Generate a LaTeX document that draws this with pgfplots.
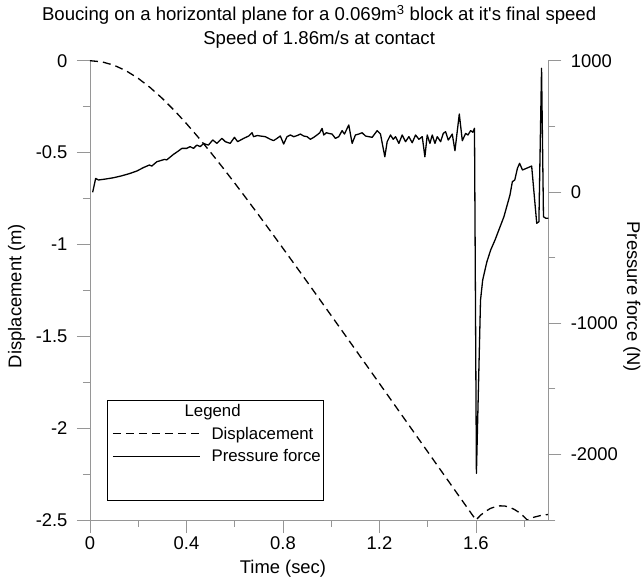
\documentclass[border=0pt]{standalone}
\usepackage{pgfplots}
\pgfplotsset{compat=1.18}
\usepackage{fontspec}
\setmainfont{Liberation Sans}
\definecolor{axgray}{RGB}{150,150,150}
\pgfplotstableread{
t d
0 0
0.05 -0.0063
0.1 -0.0249
0.15 -0.0552
0.2 -0.0962
0.25 -0.1468
0.3 -0.2055
0.35 -0.2711
0.4 -0.3426
0.45 -0.4186
0.5 -0.4985
0.55 -0.5812
0.6 -0.6663
0.65 -0.7533
0.7 -0.8415
0.75 -0.9309
0.8 -1.0212
0.85 -1.1120
0.9 -1.2034
0.95 -1.2952
1.0 -1.3872
1.05 -1.4795
1.1 -1.5720
1.15 -1.6646
1.2 -1.7572
1.25 -1.8499
1.3 -1.9428
1.35 -2.0357
1.4 -2.1285
1.45 -2.2215
1.5 -2.3144
1.55 -2.4073
1.6 -2.5
1.62 -2.473
1.64 -2.453
1.66 -2.437
1.68 -2.428
1.70 -2.423
1.72 -2.424
1.74 -2.431
1.76 -2.443
1.78 -2.460
1.80 -2.483
1.813 -2.5
1.84 -2.485
1.87 -2.475
1.9 -2.470
}\disptable
\pgfplotstableread{
t F
0.011 -3
0.0235 103
0.035 91
0.06 97
0.097 108
0.13 122
0.166 141
0.195 160
0.221 185
0.246 205
0.256 197
0.277 230
0.295 240
0.309 248
0.318 244
0.346 286
0.365 310
0.381 332
0.401 332
0.415 345
0.429 332
0.443 357
0.457 345
0.471 370
0.481 362
0.491 357
0.509 396
0.526 370
0.547 408
0.561 383
0.581 370
0.599 416
0.612 383
0.637 408
0.658 426
0.672 451
0.678 421
0.694 430
0.706 426
0.727 421
0.7475 401
0.7613 391
0.7752 408
0.7890 426
0.8029 365
0.8167 421
0.8306 434
0.8444 421
0.8582 429
0.8721 441
0.8859 426
0.8998 421
0.9136 401
0.9275 416
0.9413 434
0.9524 451
0.9621 484
0.9690 434
0.9801 451
0.9898 446
1.0036 441
1.0174 408
1.0313 421
1.0451 467
1.0548 441
1.0728 510
1.0867 370
1.1005 434
1.1143 441
1.1282 451
1.1420 426
1.1559 421
1.1697 416
1.1905 467
1.2043 441
1.2223 268
1.2320 383
1.2458 434
1.2569 401
1.2666 421
1.2805 370
1.2943 434
1.3082 383
1.3220 421
1.3358 375
1.3497 434
1.3635 401
1.3774 421
1.3884 268
1.3981 434
1.4092 370
1.4189 434
1.4300 370
1.4397 421
1.4535 383
1.4646 446
1.4742 459
1.4853 395
1.5019 441
1.5130 314
1.5310 594
1.5435 390
1.5573 446
1.5670 434
1.5781 467
1.587 455
1.594 485
1.602 -2145
1.619 -824
1.628 -671
1.645 -535
1.661 -443
1.679 -367
1.716 -189
1.741 -24
1.751 78
1.761 91
1.772 180
1.781 218
1.793 167
1.831 197
1.852 -239
1.861 -227
1.872 942
1.880 -189
1.890 -201
1.900 -201
}\forcetable
\newcommand\tickfont{\fontsize{18.4}{22}\selectfont}
\newcommand\titlefont{\fontsize{18.6}{23.5}\selectfont}
\newcommand\legfont{\fontsize{16.8}{20}\selectfont}
\begin{document}
\begin{tikzpicture}[font=\tickfont]
\path[use as bounding box] (0,0) rectangle (643pt,586pt);
\pgfplotsset{
  common/.style={
    at={(90pt,66pt)}, anchor=south west,
    scale only axis, width=458.3pt, height=459.3pt,
    xmin=0, xmax=1.9,
    axis line style={-, draw=axgray, line width=0.8pt},
    tick style={draw=axgray, line width=0.8pt},
    tick align=outside,
    major tick length=13pt, minor tick length=7pt,
    tick label style={font=\tickfont},
    label style={font=\tickfont},
    /pgf/number format/assume math mode=true,
    /pgf/number format/1000 sep={},
    scaled ticks=false,
  }
}
\begin{axis}[common,
  ymin=-2.5, ymax=0,
  axis x line*=bottom, axis y line*=left,
  xtick={0,0.4,0.8,1.2,1.6}, minor xtick={0.2,0.6,1.0,1.4,1.8},
  xticklabels={0,0.4,0.8,1.2,1.6},
  ytick={0,-0.5,-1,-1.5,-2,-2.5}, minor ytick={-0.25,-0.75,-1.25,-1.75,-2.25},
  yticklabels={0,-0.5,-1,-1.5,-2,-2.5},
  yticklabel style={xshift=-6pt},
  title={Boucing on a horizontal plane for a 0.069m\textsuperscript{3} block at it\textquotesingle s final speed\\Speed of 1.86m/s at contact},
  title style={font=\titlefont, align=center, at={(0.5,1)}, anchor=south, yshift=3pt},
  xlabel={Time (sec)},
  every axis x label/.style={font=\tickfont, at={(axis description cs:0.42105,0)}, anchor=north, yshift=-37pt},
  ylabel={Displacement (m)},
  every axis y label/.style={font=\tickfont, at={(axis description cs:-0.16,0.4877)}, anchor=center, rotate=90},
]
\addplot[black, line width=1.3pt, dash pattern=on 8pt off 5pt] table[x=t,y=d] {\disptable};
\end{axis}
\begin{axis}[common,
  ymin=-2500, ymax=1000,
  axis x line=none, axis y line*=right,
  ytick={1000,0,-1000,-2000}, minor ytick={500,-500,-1500,-2500},
  yticklabels={1000,0,-1000,-2000},
  yticklabel style={xshift=6pt},
  ylabel={Pressure force (N)},
  every axis y label/.style={font=\tickfont, at={(axis description cs:1.1825,0.486)}, anchor=center, rotate=-90},
  legend style={font=\legfont, at={(axis description cs:0.0371,0.2613)}, anchor=north west, draw=none, fill=none, inner xsep=5pt, inner ysep=2pt, row sep=5pt, column sep=9pt, cells={anchor=west}},
  legend image code/.code={\draw[#1, line width=1.4pt] (0pt,0pt) -- (87pt,0pt);},
]
\addlegendimage{empty legend}
\addlegendimage{black, dash pattern=on 8pt off 5pt}
\addplot[black, line width=1.3pt, line join=round] table[x=t,y=F] {\forcetable};
\legend{\hspace*{-27pt}Legend, Displacement, Pressure force}
\draw[black, line width=0.6pt] (axis description cs:0.0371,0.0435) rectangle (axis description cs:0.508,0.2613);
\end{axis}
\end{tikzpicture}
\end{document}
